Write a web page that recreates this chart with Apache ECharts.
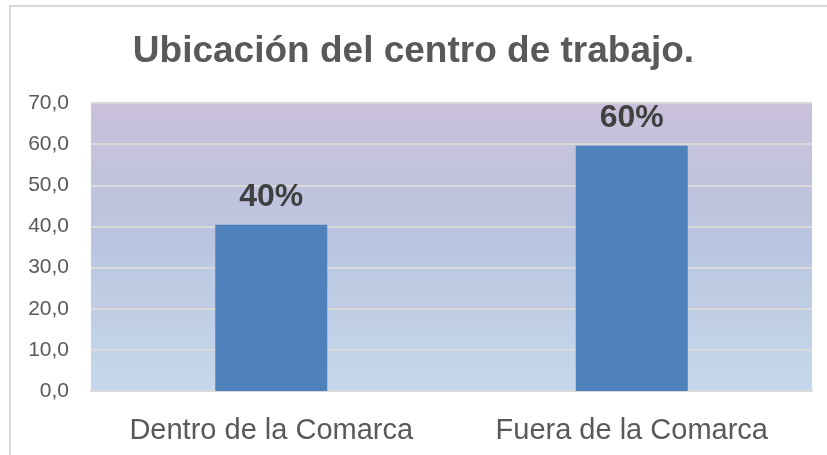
<!DOCTYPE html>
<html>
<head>
<meta charset="utf-8">
<script src="https://cdn.jsdelivr.net/npm/echarts@6/dist/echarts.min.js"></script>
<style>
  html, body { margin: 0; padding: 0; background: #fff; }
  #chart { width: 827px; height: 455px; }
</style>
</head>
<body>
<div id="chart"></div>
<script>
// datos
var categorias = ['Dentro de la Comarca', 'Fuera de la Comarca'];
var valores = [40.4, 59.6];
var etiquetas = ['40%', '60%'];

var chart = echarts.init(document.getElementById('chart'));

chart.setOption({
  backgroundColor: '#ffffff',
  title: {
    text: 'Ubicación del centro de trabajo.',
    left: 'center',
    top: 28,
    textStyle: {
      color: '#595959',
      fontFamily: 'Liberation Sans',
      fontWeight: 'bold',
      fontSize: 37
    }
  },
  graphic: [
    // marco del grafico
    {
      type: 'polyline',
      shape: { points: [[10, 455], [10, 6], [827, 6]] },
      style: { stroke: '#d9d9d9', lineWidth: 2, fill: null },
      silent: true
    },
    // fondo degradado del area de trazado
    {
      type: 'rect',
      z: -1,
      shape: { x: 91, y: 103, width: 721, height: 288 },
      style: {
        fill: new echarts.graphic.LinearGradient(0, 0, 0, 1, [
          { offset: 0, color: '#cac0da' },
          { offset: 0.5, color: '#bac6e0' },
          { offset: 1, color: '#c6d8eb' }
        ])
      },
      silent: true
    }
  ],
  grid: { left: 91, right: 15, top: 103, bottom: 64, containLabel: false },
  xAxis: {
    type: 'category',
    data: categorias,
    axisLine: { show: true, lineStyle: { color: '#d9d9d9', width: 2 } },
    axisTick: { show: false },
    axisLabel: {
      interval: 0,
      hideOverlap: false,
      color: '#595959',
      fontFamily: 'Liberation Sans',
      fontSize: 29,
      margin: 25
    }
  },
  yAxis: {
    type: 'value',
    min: 0,
    max: 70,
    interval: 10,
    axisLine: { show: false },
    axisTick: { show: false },
    splitLine: { lineStyle: { color: '#d9d9d9', width: 2 } },
    axisLabel: {
      color: '#595959',
      fontFamily: 'Liberation Sans',
      fontSize: 21,
      margin: 22,
      formatter: function (v) { return v.toFixed(1).replace('.', ','); }
    }
  },
  series: [{
    type: 'bar',
    data: valores,
    barWidth: 112,
    itemStyle: { color: '#4f81bd' },
    label: {
      show: true,
      position: 'top',
      distance: 12,
      color: '#404040',
      fontFamily: 'Liberation Sans',
      fontWeight: 'bold',
      fontSize: 32,
      formatter: function (p) { return etiquetas[p.dataIndex]; }
    }
  }]
});
</script>
</body>
</html>
